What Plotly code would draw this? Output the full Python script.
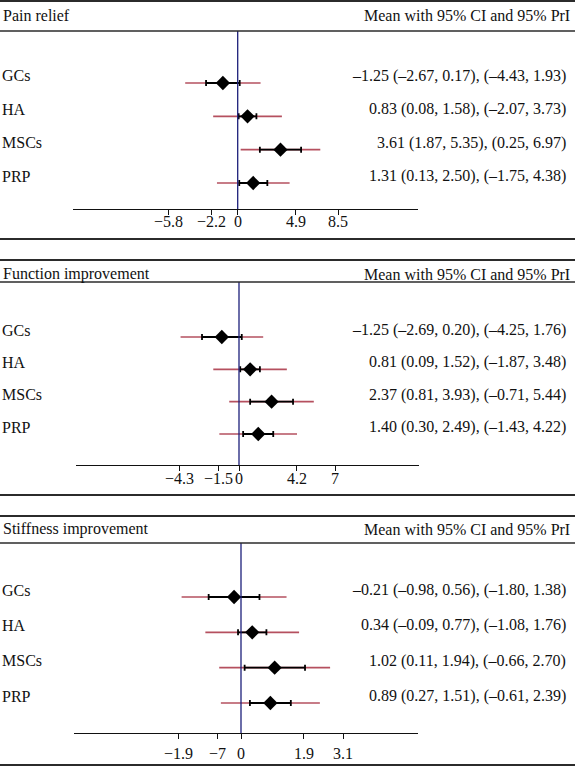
import plotly.graph_objects as go

W, H = 575, 767

groups = ["GCs", "HA", "MSCs", "PRP"]

panel_titles = ["Pain relief", "Function improvement", "Stiffness improvement"]
header_right = "Mean with 95% CI and 95% PrI"

pain_mean = [-1.25, 0.83, 3.61, 1.31]
pain_ci_lo = [-2.67, 0.08, 1.87, 0.13]
pain_ci_hi = [0.17, 1.58, 5.35, 2.50]
pain_pi_lo = [-4.43, -2.07, 0.25, -1.75]
pain_pi_hi = [1.93, 3.73, 6.97, 4.38]

func_mean = [-1.25, 0.81, 2.37, 1.40]
func_ci_lo = [-2.69, 0.09, 0.81, 0.30]
func_ci_hi = [0.20, 1.52, 3.93, 2.49]
func_pi_lo = [-4.25, -1.87, -0.71, -1.43]
func_pi_hi = [1.76, 3.48, 5.44, 4.22]

stiff_mean = [-0.21, 0.34, 1.02, 0.89]
stiff_ci_lo = [-0.98, -0.09, 0.11, 0.27]
stiff_ci_hi = [0.56, 0.77, 1.94, 1.51]
stiff_pi_lo = [-1.80, -1.08, -0.66, -0.61]
stiff_pi_hi = [1.38, 1.76, 2.70, 2.39]

pain_tickvals = [-5.8, -2.2, 0, 4.9, 8.5]
pain_ticktext = ["−5.8", "−2.2", "0", "4.9", "8.5"]
func_tickvals = [-4.3, -1.5, 0, 4.2, 7]
func_ticktext = ["−4.3", "−1.5", "0", "4.2", "7"]
stiff_tickvals = [-1.9, -0.7, 0, 1.9, 3.1]
stiff_ticktext = ["−1.9", "−7", "0", "1.9", "3.1"]

FONT = "Liberation Serif"
FS = 16
RED = "#b5505f"
NAVY = "#1c1f7a"
BORDER = "#2b2b2b"


def fmt(v):
    s = f"{abs(v):.2f}"
    return ("–" + s) if v < 0 else s


panels = [
    dict(mean=pain_mean, cil=pain_ci_lo, cih=pain_ci_hi, pil=pain_pi_lo, pih=pain_pi_hi,
         tv=pain_tickvals, tt=pain_ticktext,
         top=1, header=31, axis=209, bottom=239, title_y=15, label_y=221,
         xpx=(73, 418), zero=237.7, scale=11.85, rows=(83, 183)),
    dict(mean=func_mean, cil=func_ci_lo, cih=func_ci_hi, pil=func_pi_lo, pih=func_pi_hi,
         tv=func_tickvals, tt=func_ticktext,
         top=260, header=282, axis=465, bottom=495, title_y=274, label_y=478,
         xpx=(76, 419), zero=239, scale=13.75, rows=(337, 434)),
    dict(mean=stiff_mean, cil=stiff_ci_lo, cih=stiff_ci_hi, pil=stiff_pi_lo, pih=stiff_pi_hi,
         tv=stiff_tickvals, tt=stiff_ticktext,
         top=516, header=543, axis=733, bottom=765, title_y=529, label_y=753,
         xpx=(74, 418), zero=241, scale=33.0, rows=(597, 703)),
]

fig = go.Figure()
layout = dict(
    width=W, height=H,
    margin=dict(l=0, r=0, t=0, b=0),
    paper_bgcolor="white", plot_bgcolor="rgba(0,0,0,0)",
    showlegend=False,
    font=dict(family=FONT, size=FS, color="#111"),
)
shapes = []
annotations = []

n = len(groups)
ypos = [n - i for i in range(n)]  # GCs at top


def py(px):
    return 1 - px / H


for k, p in enumerate(panels):
    sfx = "" if k == 0 else str(k + 1)
    xa, ya = "x" + sfx, "y" + sfx

    # PrI (red)
    fig.add_trace(go.Scatter(
        x=p["mean"], y=ypos, mode="markers", xaxis=xa, yaxis=ya,
        marker=dict(size=1, color="rgba(0,0,0,0)"),
        error_x=dict(type="data", symmetric=False,
                     array=[h - m for h, m in zip(p["pih"], p["mean"])],
                     arrayminus=[m - l for m, l in zip(p["mean"], p["pil"])],
                     color=RED, thickness=1.6, width=0),
        hoverinfo="skip"))
    # CI (black) + mean diamond
    fig.add_trace(go.Scatter(
        x=p["mean"], y=ypos, mode="markers", xaxis=xa, yaxis=ya,
        marker=dict(symbol="diamond", size=11, color="black"),
        error_x=dict(type="data", symmetric=False,
                     array=[h - m for h, m in zip(p["cih"], p["mean"])],
                     arrayminus=[m - l for m, l in zip(p["mean"], p["cil"])],
                     color="black", thickness=1.8, width=3),
        hoverinfo="skip"))

    x0px, x1px = p["xpx"]
    xr = [(x0px - p["zero"]) / p["scale"], (x1px - p["zero"]) / p["scale"]]
    r0, r1 = p["rows"]
    s = (r1 - r0) / (n - 1)
    yr = [1 - (p["axis"] - r1) / s, 1 + (r1 - p["header"]) / s]

    layout["xaxis" + sfx] = dict(
        domain=[x0px / W, x1px / W], range=xr, anchor=ya,
        showgrid=False, zeroline=False, showline=True, linecolor="#111", linewidth=1.3,
        ticks="outside", ticklen=5, tickwidth=1.3, tickcolor="#111",
        tickvals=p["tv"], showticklabels=False, fixedrange=True)
    layout["yaxis" + sfx] = dict(
        domain=[py(p["axis"]), py(p["header"])], range=yr, anchor=xa,
        visible=False, fixedrange=True)

    # tick labels placed just under the axis line
    for tv, tt in zip(p["tv"], p["tt"]):
        annotations.append(dict(text=tt, xref=xa, yref="paper", x=tv, y=py(p["label_y"]),
                                xanchor="center", yanchor="middle", showarrow=False,
                                font=dict(family=FONT, size=FS, color="#111")))

    # zero reference line
    shapes.append(dict(type="line", xref=xa, yref=ya + " domain", x0=0, x1=0, y0=0, y1=1,
                       line=dict(color=NAVY, width=1.3)))
    # panel borders
    shapes.append(dict(type="line", xref="paper", yref="paper", x0=0, x1=1,
                       y0=py(p["top"]), y1=py(p["top"]), line=dict(color=BORDER, width=2)))
    shapes.append(dict(type="line", xref="paper", yref="paper", x0=0, x1=1,
                       y0=py(p["header"]), y1=py(p["header"]), line=dict(color=BORDER, width=1.6)))
    shapes.append(dict(type="line", xref="paper", yref="paper", x0=0, x1=1,
                       y0=py(p["bottom"]), y1=py(p["bottom"]), line=dict(color=BORDER, width=2)))

    # header texts
    annotations.append(dict(text=panel_titles[k], xref="paper", yref="paper",
                            x=1 / W, y=py(p["title_y"]), xanchor="left", yanchor="middle",
                            showarrow=False, font=dict(family=FONT, size=FS, color="#111")))
    annotations.append(dict(text=header_right, xref="paper", yref="paper",
                            x=572 / W, y=py(p["title_y"]), xanchor="right", yanchor="middle",
                            showarrow=False, font=dict(family=FONT, size=FS, color="#111")))

    for i, g in enumerate(groups):
        annotations.append(dict(text=g, xref="paper", yref=ya, x=0, y=ypos[i],
                                xanchor="left", yanchor="middle", yshift=7,
                                showarrow=False, font=dict(family=FONT, size=FS, color="#111")))
        txt = (f"{fmt(p['mean'][i])} ({fmt(p['cil'][i])}, {fmt(p['cih'][i])}), "
               f"({fmt(p['pil'][i])}, {fmt(p['pih'][i])})")
        annotations.append(dict(text=txt, xref="paper", yref=ya, x=568 / W, y=ypos[i],
                                xanchor="right", yanchor="middle", yshift=7,
                                showarrow=False, font=dict(family=FONT, size=FS, color="#111")))

layout["shapes"] = shapes
layout["annotations"] = annotations
fig.update_layout(**layout)
fig.write_html(
    "out.html",
    config={"displayModeBar": False},
    post_script="document.body.style.margin='0';document.body.style.overflow='hidden';",
)
